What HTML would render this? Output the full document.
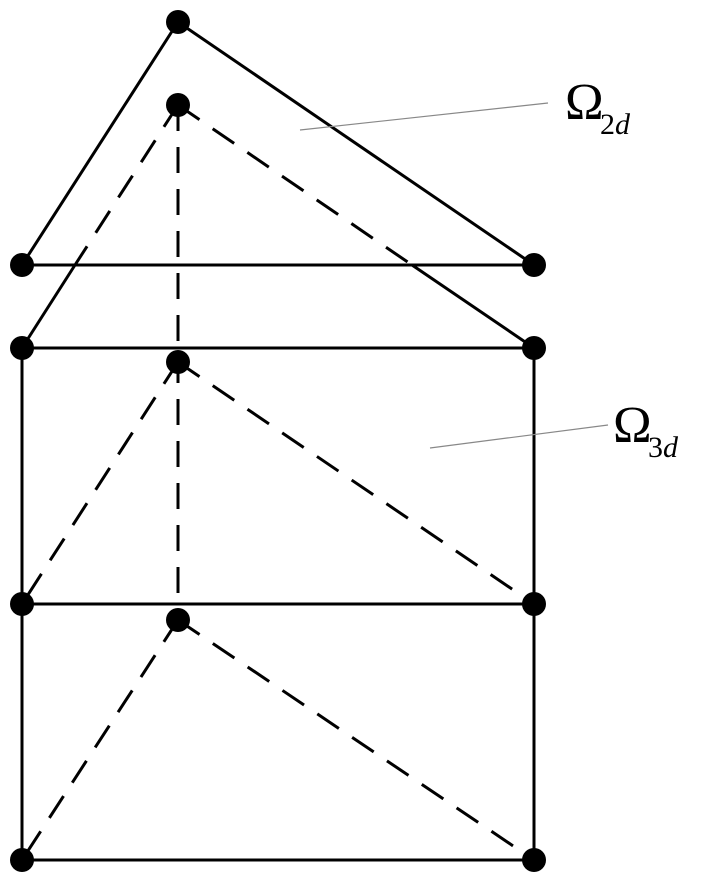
<!DOCTYPE html>
<html><head><meta charset="utf-8"><style>
html,body{margin:0;padding:0;background:#fff;}
svg{display:block;}
</style></head><body>
<svg width="719" height="883" viewBox="0 0 719 883" xmlns="http://www.w3.org/2000/svg">
<g stroke="#000" stroke-width="3" fill="none" stroke-linecap="butt">
<line x1="178" y1="22" x2="22" y2="265"/>
<line x1="178" y1="22" x2="534" y2="265"/>
<line x1="22" y1="265" x2="534" y2="265"/>
<line x1="75" y1="265" x2="22" y2="348"/>
<line x1="412" y1="265" x2="534" y2="348"/>
<line x1="22" y1="348" x2="534" y2="348"/>
<line x1="22" y1="348" x2="22" y2="860"/>
<line x1="534" y1="348" x2="534" y2="860"/>
<line x1="22" y1="604" x2="534" y2="604"/>
<line x1="22" y1="860" x2="534" y2="860"/>
</g>
<g stroke="#000" stroke-width="3" fill="none" stroke-dasharray="26,16">
<line x1="178" y1="105" x2="75" y2="265"/>
<line x1="178" y1="105" x2="412" y2="265"/>
<line x1="178" y1="105" x2="178" y2="620"/>
<line x1="178" y1="362" x2="22" y2="604"/>
<line x1="178" y1="362" x2="534" y2="604"/>
<line x1="178" y1="620" x2="22" y2="860"/>
<line x1="178" y1="620" x2="534" y2="860"/>
</g>
<g fill="#000">
<circle cx="178" cy="22" r="12"/>
<circle cx="178" cy="105" r="12"/>
<circle cx="22" cy="265" r="12"/>
<circle cx="534" cy="265" r="12"/>
<circle cx="22" cy="348" r="12"/>
<circle cx="534" cy="348" r="12"/>
<circle cx="178" cy="362" r="12"/>
<circle cx="22" cy="604" r="12"/>
<circle cx="534" cy="604" r="12"/>
<circle cx="178" cy="620" r="12"/>
<circle cx="22" cy="860" r="12"/>
<circle cx="534" cy="860" r="12"/>
</g>
<g stroke="#888" stroke-width="1.2">
<line x1="300" y1="130" x2="548" y2="103"/>
<line x1="430" y1="448" x2="608" y2="425"/>
</g>
<g font-family="Liberation Serif, serif" fill="#000">
<text x="565" y="119" font-size="52">Ω</text>
<text x="600" y="134" font-size="30">2<tspan font-style="italic">d</tspan></text>
<text x="613" y="442" font-size="52">Ω</text>
<text x="648" y="457" font-size="30">3<tspan font-style="italic">d</tspan></text>
</g>
</svg>
</body></html>
